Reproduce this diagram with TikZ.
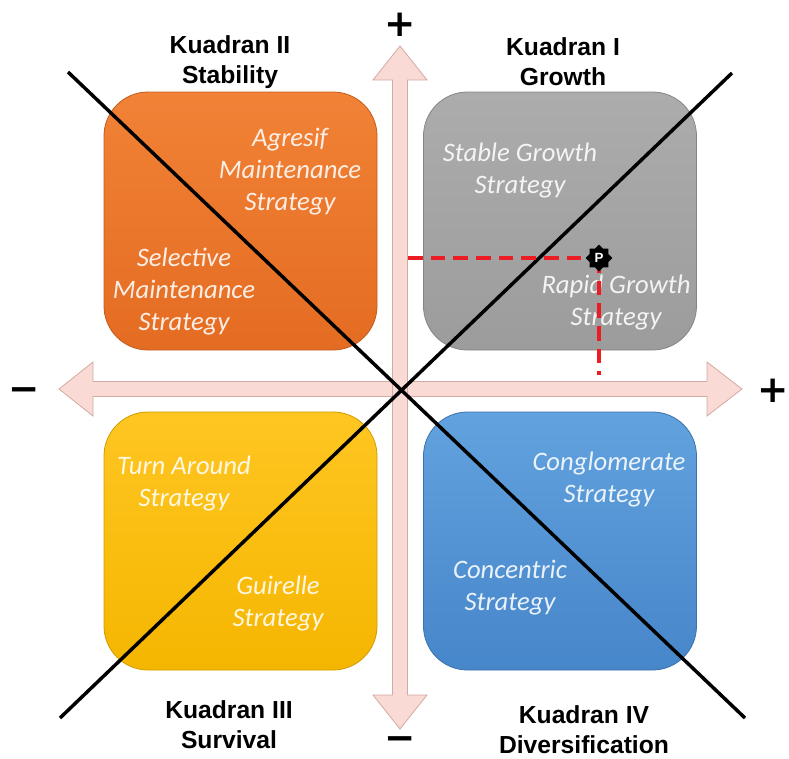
\documentclass[tikz,border=0pt]{standalone}
\usepackage{fontspec}
\setmainfont{Liberation Sans}
\newfontfamily\calib{Carlito}
\newfontfamily\djv{DejaVu Sans}
\usetikzlibrary{shapes.geometric}
\definecolor{orTop}{RGB}{241,130,54}
\definecolor{orBot}{RGB}{228,108,34}
\definecolor{grTop}{RGB}{172,172,172}
\definecolor{grBot}{RGB}{156,156,156}
\definecolor{yeTop}{RGB}{255,198,34}
\definecolor{yeBot}{RGB}{245,182,0}
\definecolor{blTop}{RGB}{98,162,222}
\definecolor{blBot}{RGB}{70,134,202}
\definecolor{arFill}{RGB}{249,218,212}
\definecolor{arEdge}{RGB}{212,170,162}
\definecolor{pRed}{RGB}{236,28,36}
\newcommand{\lowsign}[1]{\raisebox{-6pt}{#1}}
\begin{document}
\begin{tikzpicture}[x=0.75pt,y=-0.75pt,
  qbox/.style={rounded corners=33pt, line width=0.6pt, inner sep=0pt, outer sep=0pt,
    minimum width=204.75pt, minimum height=193.5pt},
  intxt/.style={font={\calib\itshape\fontsize{20}{24}\selectfont}, text=white, text opacity=0.88, align=center, inner sep=0pt},
  ttl/.style={font={\bfseries\fontsize{18.5}{22.5}\selectfont}, align=center, inner sep=0pt},
  sgn/.style={font={\djv\bfseries\fontsize{28}{28}\selectfont}, inner sep=0pt, text height=0.6em, text depth=0pt},
  axisarrow/.style={fill=arFill, draw=arEdge, line width=0.6pt, line join=miter},
  diag/.style={line width=2.6pt, black},
  reddash/.style={pRed, line width=2.6pt, dash pattern=on 11pt off 6pt},
  pmark/.style={star, star points=8, star point ratio=1.3, fill=black, minimum size=20pt, inner sep=0pt,
    text=white, font={\bfseries\fontsize{10}{10}\selectfont}}
]
\useasboundingbox (0,0) rectangle (789,758);

% quadrant boxes
\node[qbox, top color=orTop, bottom color=orBot, draw=orBot!85!black] (q2) at (240.5,221) {};
\node[qbox, top color=grTop, bottom color=grBot, draw=grBot!85!black] (q1) at (560,221) {};
\node[qbox, top color=yeTop, bottom color=yeBot, draw=yeBot!85!black] (q3) at (240.5,541) {};
\node[qbox, top color=blTop, bottom color=blBot, draw=blBot!85!black] (q4) at (560,541) {};

% axes
\path[axisarrow] (93,381.5) -- (93,362) -- (59,389) -- (93,416) -- (93,396.5)
  -- (707,396.5) -- (707,416) -- (742,389) -- (707,362) -- (707,381.5) -- cycle;
\path[axisarrow] (392.5,80) -- (373,80) -- (400,46) -- (427,80) -- (407.5,80)
  -- (407.5,695) -- (427,695) -- (400,729) -- (373,695) -- (392.5,695) -- cycle;

% signs
\node[sgn] (plusT) at (400,24) {\lowsign{+}};
\node[sgn] (plusR) at (773,390) {\lowsign{+}};
\node[sgn] (minL) at (24,389) {\lowsign{−}};
\node[sgn] (minB) at (400,738) {\lowsign{−}};

% titles
\node[ttl] (t2) at (230,62) {Kuadran II\\Stability};
\node[ttl] (t1) at (563,62) {Kuadran I\\Growth};
\node[ttl] (t3) at (229,725) {Kuadran III\\Survival};
\node[ttl] (t4) at (584,730) {Kuadran IV\\Diversification};

% strategy texts
\node[intxt] (s1) at (290,172) {Agresif\\Maintenance\\Strategy};
\node[intxt] (s2) at (184,292) {Selective\\Maintenance\\Strategy};
\node[intxt] (s3) at (520,171) {Stable Growth\\Strategy};
\node[intxt] (s4) at (616,303) {Rapid Growth\\Strategy};
\node[intxt] (s5) at (184,484) {Turn Around\\Strategy};
\node[intxt] (s6) at (278,604) {Guirelle\\Strategy};
\node[intxt] (s7) at (609,480) {Conglomerate\\Strategy};
\node[intxt] (s8) at (510,588) {Concentric\\Strategy};

% diagonals
\coordinate (d1a) at (68,72);
\coordinate (d1b) at (745,718);
\coordinate (d2a) at (60,718);
\coordinate (d2b) at (732,73);
\draw[diag] (d1a) -- (d1b);
\draw[diag] (d2a) -- (d2b);

% point P with its dashed guides
\coordinate (pc) at (599,258);
\coordinate (hl) at (408,258);
\coordinate (vb) at (599,375);
\draw[reddash] (hl) -- (pc);
\draw[reddash] (pc) -- (vb);
\node[pmark] (P) at (pc) {P};
\end{tikzpicture}
\end{document}
